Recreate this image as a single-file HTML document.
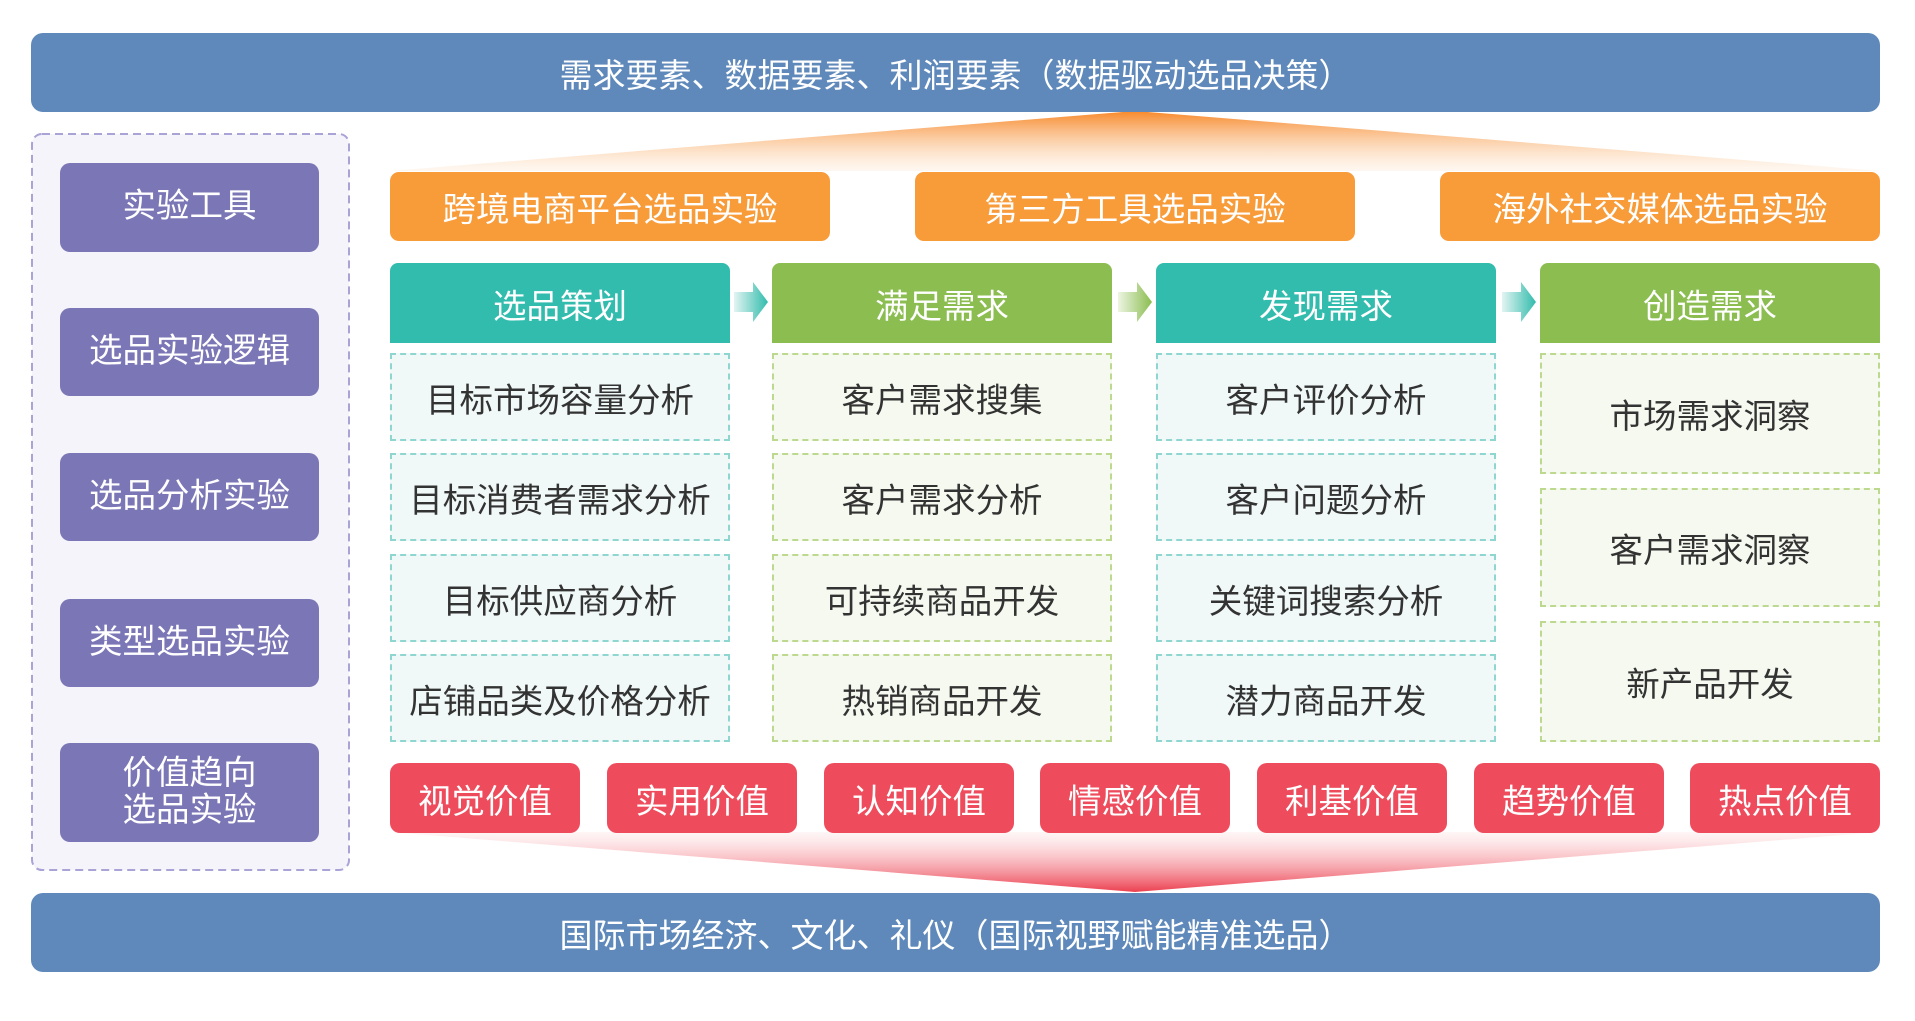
<!DOCTYPE html>
<html><head><meta charset="utf-8"><style>
body{margin:0;width:1915px;height:1021px;background:#fff;position:relative;overflow:hidden;font-family:"Liberation Sans","Noto Sans CJK SC",sans-serif}
.a{position:absolute;display:flex;align-items:center;justify-content:center;box-sizing:border-box;text-align:center}
.bar{background:#5f89ba;color:#fff;font-size:33px;border-radius:12px;left:31px;width:1849px;height:79px}
.pu{background:#7b76b6;color:#fff;font-size:33.5px;border-radius:10px;left:60px;width:259px;line-height:1.1}
.or{background:#f89b39;color:#fff;font-size:33.5px;border-radius:9px;top:172px;height:69px;width:440px}
.hd{color:#fff;font-size:33.5px;top:263px;height:80px;width:340px;border-radius:8px 8px 0 0}
.ct{background:#f0f9f8;border:2px dashed #8ed6cf;color:#333;font-size:33.5px;width:340px}
.cg{background:#f5f9ef;border:2px dashed #bcd98f;color:#333;font-size:33.5px;width:340px}
.rd{background:#ee4c5c;color:#fff;font-size:33.5px;border-radius:10px;top:763px;height:70px;width:190px}
</style></head><body>
<svg width="1915" height="1021" style="position:absolute;left:0;top:0">
<defs>
<linearGradient id="go" x1="0" y1="0" x2="0" y2="1"><stop offset="0" stop-color="#f7892a"/><stop offset="1" stop-color="#fde6d0" stop-opacity="0.3"/></linearGradient>
<linearGradient id="gr" x1="0" y1="1" x2="0" y2="0"><stop offset="0" stop-color="#ec4050"/><stop offset="1" stop-color="#fde0e2" stop-opacity="0.3"/></linearGradient>
<linearGradient id="ga" x1="0" y1="0" x2="1" y2="0"><stop offset="0" stop-color="#e3f4f2"/><stop offset="1" stop-color="#31bcad"/></linearGradient>
<linearGradient id="gb" x1="0" y1="0" x2="1" y2="0"><stop offset="0" stop-color="#edf5e2"/><stop offset="1" stop-color="#8bbd50"/></linearGradient>
</defs>
<polygon points="1135,111 390,171 1880,171" fill="url(#go)"/>
<polygon points="390,832 1880,832 1135,892" fill="url(#gr)"/>
<polygon points="734,292 753,292 753,282 768,302 753,322 753,312 734,312" fill="url(#ga)"/>
<polygon points="1118,292 1137,292 1137,282 1152,302 1137,322 1137,312 1118,312" fill="url(#gb)"/>
<polygon points="1502,292 1521,292 1521,282 1536,302 1521,322 1521,312 1502,312" fill="url(#ga)"/>
<rect x="32" y="134" width="317" height="736" rx="10" fill="#f5f4fa" stroke="#a9a3d6" stroke-width="2" stroke-dasharray="8,5"/>
</svg>
<div class="a bar" style="top:33px">需求要素、数据要素、利润要素（数据驱动选品决策）</div>
<div class="a bar" style="top:893px">国际市场经济、文化、礼仪（国际视野赋能精准选品）</div>
<div class="a pu" style="top:163px;height:89px">实验工具</div>
<div class="a pu" style="top:308px;height:88px">选品实验逻辑</div>
<div class="a pu" style="top:453px;height:88px">选品分析实验</div>
<div class="a pu" style="top:599px;height:88px">类型选品实验</div>
<div class="a pu" style="top:743px;height:99px">价值趋向<br>选品实验</div>
<div class="a or" style="left:390px">跨境电商平台选品实验</div>
<div class="a or" style="left:915px">第三方工具选品实验</div>
<div class="a or" style="left:1440px">海外社交媒体选品实验</div>
<div class="a hd" style="left:390px;background:#31bcad">选品策划</div>
<div class="a hd" style="left:772px;background:#8bbd50">满足需求</div>
<div class="a hd" style="left:1156px;background:#31bcad">发现需求</div>
<div class="a hd" style="left:1540px;background:#8bbd50">创造需求</div>
<div class="a ct" style="left:390px;top:353px;height:88px">目标市场容量分析</div>
<div class="a ct" style="left:390px;top:453px;height:88px">目标消费者需求分析</div>
<div class="a ct" style="left:390px;top:554px;height:88px">目标供应商分析</div>
<div class="a ct" style="left:390px;top:654px;height:88px">店铺品类及价格分析</div>
<div class="a cg" style="left:772px;top:353px;height:88px">客户需求搜集</div>
<div class="a cg" style="left:772px;top:453px;height:88px">客户需求分析</div>
<div class="a cg" style="left:772px;top:554px;height:88px">可持续商品开发</div>
<div class="a cg" style="left:772px;top:654px;height:88px">热销商品开发</div>
<div class="a ct" style="left:1156px;top:353px;height:88px">客户评价分析</div>
<div class="a ct" style="left:1156px;top:453px;height:88px">客户问题分析</div>
<div class="a ct" style="left:1156px;top:554px;height:88px">关键词搜索分析</div>
<div class="a ct" style="left:1156px;top:654px;height:88px">潜力商品开发</div>
<div class="a cg" style="left:1540px;top:353px;height:121px">市场需求洞察</div>
<div class="a cg" style="left:1540px;top:488px;height:119px">客户需求洞察</div>
<div class="a cg" style="left:1540px;top:621px;height:121px">新产品开发</div>
<div class="a rd" style="left:390px">视觉价值</div>
<div class="a rd" style="left:607px">实用价值</div>
<div class="a rd" style="left:824px">认知价值</div>
<div class="a rd" style="left:1040px">情感价值</div>
<div class="a rd" style="left:1257px">利基价值</div>
<div class="a rd" style="left:1474px">趋势价值</div>
<div class="a rd" style="left:1690px">热点价值</div>
</body></html>
